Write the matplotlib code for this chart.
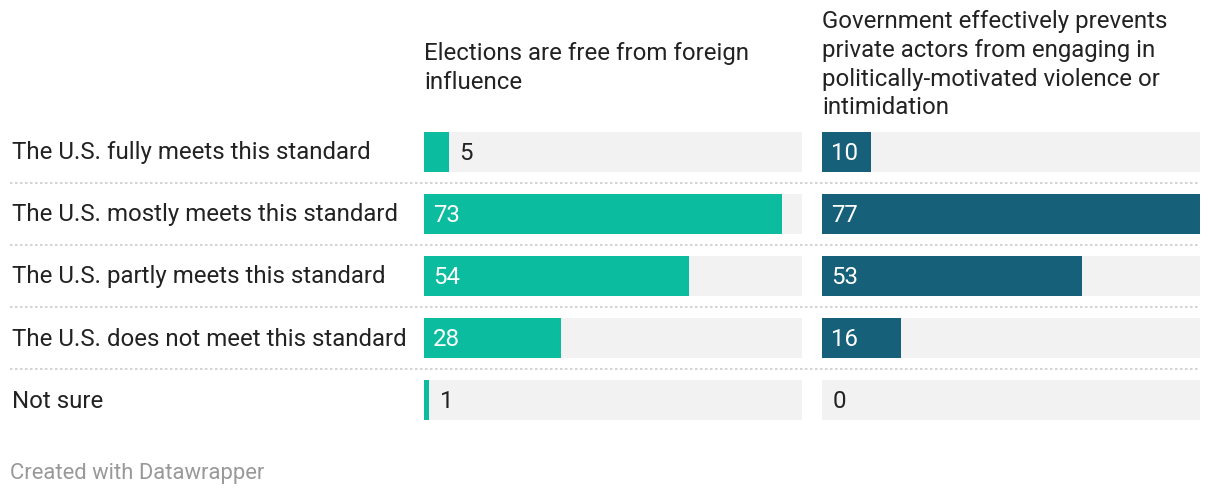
import matplotlib.pyplot as plt
from matplotlib.lines import Line2D

plt.rcParams['font.family'] = ['Roboto', 'DejaVu Sans']

W, H = 1220, 496

# --- data --- #
categories = [
    "The U.S. fully meets this standard",
    "The U.S. mostly meets this standard",
    "The U.S. partly meets this standard",
    "The U.S. does not meet this standard",
    "Not sure",
]
headers = [
    "Elections are free from foreign\ninfluence",
    "Government effectively prevents\nprivate actors from engaging in\npolitically-motivated violence or\nintimidation",
]
elections = [5, 73, 54, 28, 1]
violence = [10, 77, 53, 16, 0]
series = [elections, violence]
colors = ["#0bbc9f", "#17607a"]
XMAX = 77

fig = plt.figure(figsize=(W / 100, H / 100), dpi=100)

def fx(px):
    return px / W

def fy(py):
    return 1 - py / H

row_top, row_h = 121, 62
n = len(categories)
panel_x = [424, 822]
panel_w = 378
FS = 17.3

for k in range(2):
    ax = fig.add_axes([fx(panel_x[k]), fy(row_top + row_h * n), fx(panel_w), row_h * n / H])
    ax.set_xlim(0, XMAX)
    ax.set_ylim(n - 0.5, -0.5)
    ax.axis("off")
    ys = list(range(n))
    ax.barh(ys, [XMAX] * n, height=40 / 62, left=0, color="#f2f2f2", linewidth=0)
    ax.barh(ys, series[k], height=40 / 62, color=colors[k], linewidth=0)
    for y, v in zip(ys, series[k]):
        if v >= 8:
            ax.text(9 * XMAX / panel_w, y + 0.02, str(v), color="white",
                    fontsize=FS, va="center", ha="left")
        else:
            ax.text(v + 11 * XMAX / panel_w, y + 0.02, str(v), color="#222222",
                    fontsize=FS, va="center", ha="left")

# header texts
fig.text(fx(424), fy(42), headers[0], fontsize=FS, color="#222222",
         va="top", ha="left", linespacing=1.32)
fig.text(fx(822), fy(10), headers[1], fontsize=FS, color="#222222",
         va="top", ha="left", linespacing=1.32)

# category labels
for i, c in enumerate(categories):
    fig.text(fx(12), fy(row_top + row_h * i + 32), c, fontsize=FS,
             color="#222222", va="center", ha="left")

# dotted separators
for i in range(1, n):
    yy = fy(row_top + row_h * i)
    fig.add_artist(Line2D([fx(10), fx(1200)], [yy, yy], color="#cccccc",
                          linestyle=(0, (1.5, 1.5)), linewidth=1.2))

fig.text(fx(10), fy(474), "Created with Datawrapper", fontsize=15.8,
         color="#999999", va="center", ha="left")

fig.savefig("out.png", dpi=100, facecolor="white")
